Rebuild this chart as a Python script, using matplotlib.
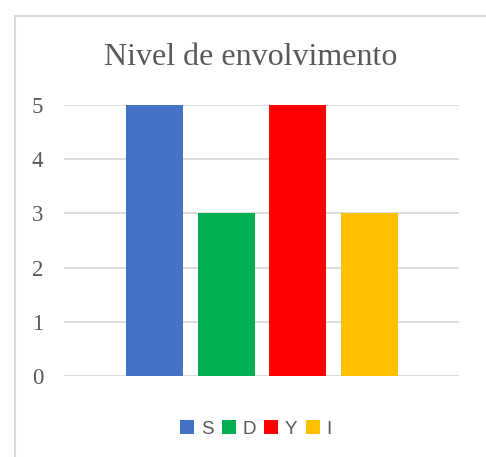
import matplotlib

matplotlib.use("Agg")
import matplotlib.pyplot as plt
from matplotlib.lines import Line2D
from matplotlib.patches import Patch

# data
series_names = ["S", "D", "Y", "I"]
series_values = [5, 3, 5, 3]
series_colors = ["#4472C4", "#00B050", "#FF0000", "#FFC000"]
y_ticks = [0, 1, 2, 3, 4, 5]
title = "Nivel de envolvimento"

TEXT_GREY = "#595959"
LINE_GREY = "#D9D9D9"


def main():
    fig = plt.figure(figsize=(4.86, 4.57), dpi=100)
    fig.patch.set_facecolor("white")

    ax = fig.add_axes([64 / 486.0, 1 - 376 / 457.0, (459 - 64) / 486.0, (376 - 105) / 457.0])
    positions = list(range(len(series_names)))
    ax.bar(positions, series_values, width=0.795, color=series_colors, zorder=3)

    ax.set_xlim(-1.262, 4.247)
    ax.set_ylim(0, 5)
    ax.set_yticks(y_ticks)
    ax.set_xticks([])
    ax.grid(axis="y", color=LINE_GREY, linewidth=1.3, zorder=0)
    for spine in ax.spines.values():
        spine.set_visible(False)
    ax.tick_params(axis="y", length=0, pad=15, labelcolor=TEXT_GREY, labelsize=16.5)
    for label in ax.get_yticklabels():
        label.set_family(["Liberation Serif", "DejaVu Serif"])

    fig.text(251 / 486.0, 1 - 65 / 457.0, title, ha="center", va="baseline",
             fontsize=23, color=TEXT_GREY, family=["Liberation Serif", "DejaVu Serif"])

    handles = [Patch(facecolor=c, edgecolor="none") for c in series_colors]
    legend = fig.legend(handles, series_names, loc="center", bbox_to_anchor=(256 / 486.0, 1 - 429 / 457.0),
                        ncol=4, frameon=False, handlelength=0.75, handleheight=0.75, handletextpad=0.35,
                        columnspacing=0.45, borderpad=0.0,
                        prop={"family": ["Liberation Sans", "DejaVu Sans"], "size": 13.5})
    for text in legend.get_texts():
        text.set_color(TEXT_GREY)

    # chart-area border (only top and left edges are inside the crop)
    x0 = 14.5 / 486.0
    y0 = 1 - 15.5 / 457.0
    fig.add_artist(Line2D([x0, 1.0], [y0, y0], color=LINE_GREY, linewidth=1.5))
    fig.add_artist(Line2D([x0, x0], [0.0, y0], color=LINE_GREY, linewidth=1.5))

    fig.savefig("out.png", dpi=100)
    plt.close(fig)


if __name__ == "__main__":
    main()
